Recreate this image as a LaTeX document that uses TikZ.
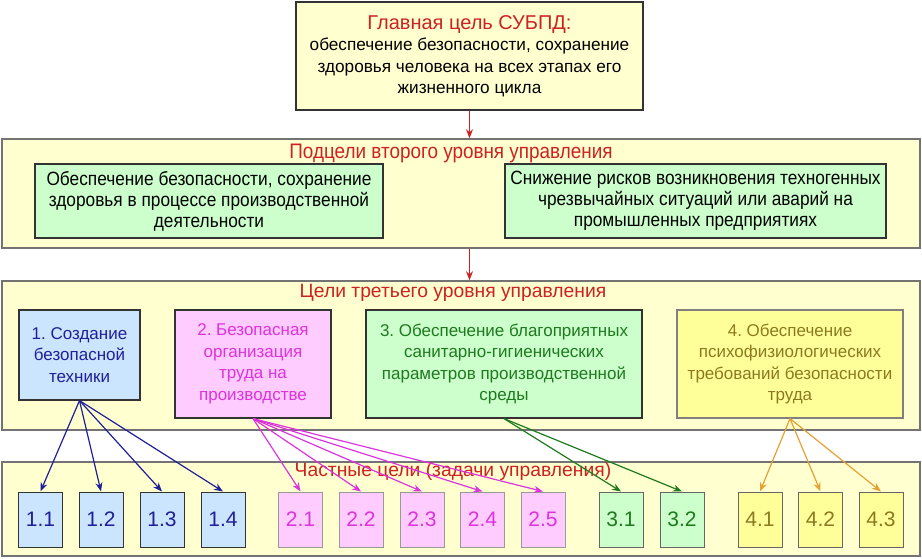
\documentclass[tikz,border=0pt]{standalone}
\usepackage{fontspec}
\setmainfont{Liberation Sans}
\newfontfamily\narrowfont[FakeStretch=0.9]{Liberation Sans}
\usetikzlibrary{arrows.meta}
\frenchspacing
\definecolor{paleyellow}{HTML}{FFFFD0}
\definecolor{palegreen}{HTML}{CCFFCC}
\definecolor{paleblue}{HTML}{CCE5FF}
\definecolor{palepink}{HTML}{FFCCFF}
\definecolor{lemon}{HTML}{FFFF99}
\definecolor{titlered}{HTML}{CC2222}
\definecolor{darkblue}{HTML}{1F1F99}
\definecolor{magentaish}{HTML}{DD33DD}
\definecolor{darkgreen}{HTML}{1E7A1E}
\definecolor{olive}{HTML}{8C7A22}
\definecolor{orangeish}{HTML}{E6A033}
\tikzset{
  band/.style={draw=black!55, line width=1.5pt, fill=paleyellow, inner sep=0pt},
  bandtitle/.style={text=titlered, font=\fontsize{19.3}{22}\selectfont},
  goal/.style={draw=black!80, line width=1.2pt, align=center, inner sep=0pt,
    font=\fontsize{17}{21.5}\selectfont},
  leaf/.style={draw=black!80, line width=1pt, minimum width=44pt, minimum height=55pt,
    inner sep=0pt, font=\fontsize{21}{24}\selectfont},
  link/.style={-{Stealth[length=9pt,width=7pt]}, line width=1.2pt}
}
\begin{document}
\begin{tikzpicture}[x=1pt,y=-1pt]
\useasboundingbox (0,0) rectangle (922,559);
% main goal
\node[goal, fill=paleyellow, line width=2pt, minimum width=347pt, minimum height=108pt,
  font=\fontsize{17.2}{21.5}\selectfont] (main) at (469.5,56)
  {{\color{titlered}\fontsize{20}{22}\selectfont Главная цель СУБПД:}\\обеспечение безопасности, сохранение\\
   здоровья человека на всех этапах его\\жизненного цикла};
% second level
\node[band, minimum width=918pt, minimum height=109pt] (lvltwo) at (461,193.5) {};
\node[bandtitle, font=\narrowfont\fontsize{21}{22}\selectfont] (lvltwot) at (451,153) {Подцели второго уровня управления};
\node[goal, fill=palegreen, minimum width=348pt, minimum height=74pt,
  font=\narrowfont\fontsize{19.2}{21}\selectfont] (subone) at (209,201)
  {Обеспечение безопасности, сохранение\\здоровья в процессе производственной\\деятельности};
\node[goal, fill=palegreen, minimum width=381pt, minimum height=74pt,
  font=\narrowfont\fontsize{19.2}{21}\selectfont] (subtwo) at (695.5,201)
  {Снижение рисков возникновения техногенных\\чрезвычайных ситуаций или аварий на\\промышленных предприятиях};
% third level
\node[band, minimum width=918pt, minimum height=149pt] (lvlthree) at (461,355.5) {};
\node[bandtitle] (lvlthreet) at (453,293) {Цели третьего уровня управления};
\node[goal, fill=paleblue, text=darkblue, minimum width=121pt, minimum height=90pt]
  (g1) at (79.5,355) {1. Создание\\безопасной\\техники};
\node[goal, fill=palepink, text=magentaish, minimum width=156pt, minimum height=108pt]
  (g2) at (253,364) {2. Безопасная\\организация\\труда на\\производстве};
\node[goal, fill=palegreen, text=darkgreen, minimum width=276pt, minimum height=108pt]
  (g3) at (504,364)
  {3. Обеспечение благоприятных\\санитарно-гигиенических\\параметров производственной\\среды};
\node[goal, fill=lemon, draw=black!50, text=olive, minimum width=226pt, minimum height=108pt]
  (g4) at (790,364)
  {4. Обеспечение\\психофизиологических\\требований безопасности\\труда};
% private goals
\node[band, minimum width=918pt, minimum height=94pt] (lvlfour) at (461,509) {};
\node[bandtitle] (lvlfourt) at (453,472) {Частные цели (задачи управления)};
\foreach \i/\x in {1/40.5,2/101,3/162,4/223}
  \node[leaf, fill=paleblue, text=darkblue] (t1\i) at (\x,519.5) {1.\i};
\foreach \i/\x in {1/300.5,2/361,3/422,4/482.5,5/543}
  \node[leaf, fill=palepink, text=magentaish, draw=black!40] (t2\i) at (\x,519.5) {2.\i};
\foreach \i/\x in {1/621,2/682}
  \node[leaf, fill=palegreen, text=darkgreen, draw=black!60] (t3\i) at (\x,519.5) {3.\i};
\foreach \i/\x in {1/760,2/820.5,3/881}
  \node[leaf, fill=lemon, text=olive, draw=black!60] (t4\i) at (\x,519.5) {4.\i};
% connectors
\draw[link, titlered] (main.south) -- (main.south |- lvltwo.north);
\draw[link, titlered] (main.south |- lvltwo.south) -- (main.south |- lvlthree.north);
\foreach \i in {1,...,4}
  \draw[link, darkblue] (g1.south) -- (t1\i.north);
\foreach \i in {1,...,5}
  \draw[link, magentaish] (g2.south) -- (t2\i.north);
\foreach \i in {1,2}
  \draw[link, darkgreen] (g3.south) -- (t3\i.north);
\foreach \i in {1,2,3}
  \draw[link, orangeish] (g4.south) -- (t4\i.north);
\end{tikzpicture}
\end{document}
